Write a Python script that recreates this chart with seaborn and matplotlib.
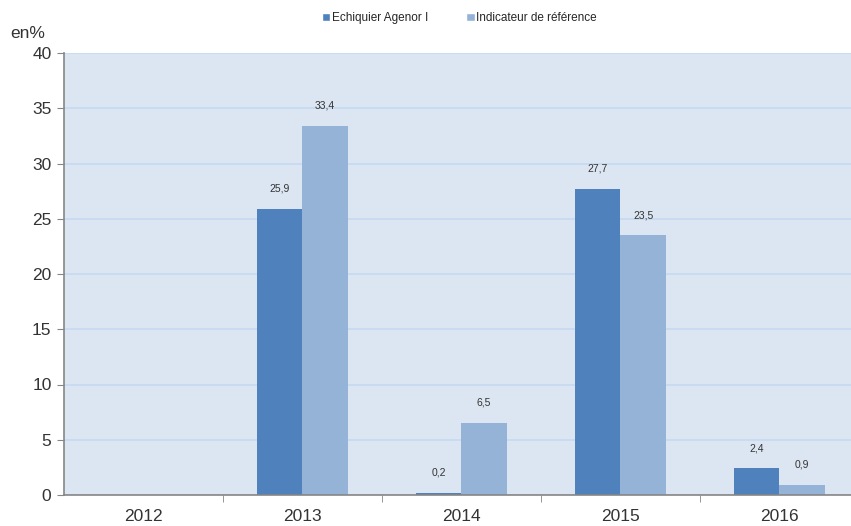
import matplotlib
matplotlib.use("Agg")
import matplotlib.pyplot as plt
import seaborn as sns
import numpy as np
import pandas as pd
from matplotlib.patches import Patch

years = ["2012", "2013", "2014", "2015", "2016"]
fund = [np.nan, 25.9, 0.2, 27.7, 2.4]
benchmark = [np.nan, 33.4, 6.5, 23.5, 0.9]
series_names = ["Echiquier Agenor I", "Indicateur de référence"]
colors = ["#4F81BD", "#95B3D7"]

df = pd.DataFrame({
    "year": years * 2,
    "value": fund + benchmark,
    "series": [series_names[0]] * 5 + [series_names[1]] * 5,
})

sns.set_style("white")
plt.rcParams["font.family"] = ["Liberation Sans", "DejaVu Sans"]

fig = plt.figure(figsize=(8.51, 5.26), dpi=100)
ax = fig.add_axes([64 / 851, 1 - 495 / 526, 1 - 64 / 851, (495 - 53) / 526])
ax.set_facecolor("#DCE6F2")

sns.barplot(data=df, x="year", y="value", hue="series", palette=colors,
            width=0.57, saturation=1, linewidth=0, ax=ax, legend=False)

ax.set_xlim(-0.5, 4.45)
ax.set_ylim(0, 40)
ax.set_yticks(range(0, 41, 5))
ax.yaxis.grid(True, color="#C6D9F1", linewidth=1.2)
ax.set_axisbelow(True)
ax.set_xlabel("")
ax.set_ylabel("")

for side in ["top", "right"]:
    ax.spines[side].set_visible(False)
for side in ["left", "bottom"]:
    ax.spines[side].set_color("#868686")
    ax.spines[side].set_linewidth(1.2)

ax.tick_params(axis="y", labelsize=12.5, length=5, color="#868686", left=True,
               labelcolor="#333333", pad=4)
ax.tick_params(axis="x", which="major", length=0, labelsize=12.5, pad=10,
               labelcolor="#333333")
ax.set_xticks(np.arange(0.5, 4.5, 1), minor=True)
ax.tick_params(axis="x", which="minor", length=5, color="#868686", bottom=True)

# value labels
for container in ax.containers:
    for bar in container:
        h = bar.get_height()
        if np.isnan(h):
            continue
        ax.annotate(f"{h:.1f}".replace(".", ","),
                    (bar.get_x() + bar.get_width() / 2, h),
                    xytext=(0, 11), textcoords="offset points",
                    ha="center", va="bottom", fontsize=7.5, color="#333333")

fig.text(10 / 851, 1 - 33 / 526, "en%", fontsize=12.5, color="#333333",
         va="center", ha="left")

handles = [Patch(facecolor=c, label=n) for c, n in zip(colors, series_names)]
fig.legend(handles=handles, loc="center", bbox_to_anchor=(0.54, 1 - 18 / 526),
           ncol=2, frameon=False, fontsize=8.5, handlelength=0.7, handleheight=0.7,
           handletextpad=0.15, columnspacing=3.2)

fig.savefig("out.png", dpi=100)
